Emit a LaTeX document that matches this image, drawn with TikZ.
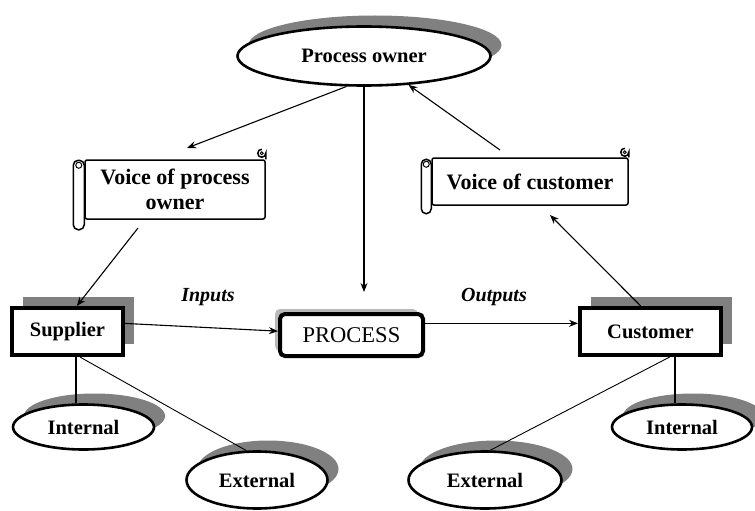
\documentclass[tikz,border=0pt]{standalone}
\usepackage{fontspec}
\setmainfont{Liberation Serif}
\usetikzlibrary{arrows.meta, shapes.geometric, shadows, calc, positioning}

\begin{document}
\begin{tikzpicture}[x=1pt, y=-1pt, >={Stealth[length=9pt,width=7pt]},
    txt/.style={font=\fontsize{20.5}{24}\selectfont\bfseries},
    oval/.style={ellipse, draw, line width=2.6pt, fill=white, inner sep=0pt, txt,
        drop shadow={shadow xshift=11pt, shadow yshift=11pt, fill=gray, opacity=1}},
    party/.style={rectangle, draw, line width=4pt, fill=white, inner sep=0pt, txt,
        drop shadow={shadow xshift=11pt, shadow yshift=11pt, fill=gray, opacity=1}},
    scroll/.style={rectangle, draw, line width=1.5pt, rounded corners=2pt, fill=white,
        inner sep=0pt, align=center, font=\fontsize{22}{25}\selectfont\bfseries},
    roll/.style={draw, line width=1.5pt, fill=white},
    link/.style={line width=1.1pt},
    leg/.style={line width=1.8pt},
    tag/.style={font=\fontsize{20}{24}\selectfont\bfseries\itshape}]

    % Canvas
    \useasboundingbox (0,0) rectangle (755,511);

    % Owner and the process
    \node[oval, minimum width=253, minimum height=59] (po) at (364,56) {Process owner};
    \node[rectangle, draw, line width=4pt, rounded corners=5pt, fill=white,
        font=\fontsize{22.5}{25}\selectfont, minimum width=143, minimum height=42,
        drop shadow={shadow xshift=-5pt, shadow yshift=5pt, fill=gray!55, opacity=1}]
        (proc) at (351.5,335) {PROCESS};

    % Supplier and customer
    \node[party, minimum width=111, minimum height=47] (sup) at (67.5,331.5) {Supplier};
    \node[party, minimum width=141, minimum height=47] (cus) at (650.5,331.5) {Customer};

    % Internal / external
    \node[oval, minimum width=141, minimum height=45] (intL) at (83.5,427) {Internal};
    \node[oval, minimum width=141, minimum height=57] (extL) at (257,480) {External};
    \node[oval, minimum width=153, minimum height=57] (extR) at (485,480) {External};
    \node[oval, minimum width=140, minimum height=45] (intR) at (682,427) {Internal};

    % Voice of process owner scroll
    \node[scroll, minimum width=180, minimum height=59] (vpo) at (175,189.5) {Voice of process\\owner};
    \draw[roll, rounded corners=5pt] ($(vpo.north west)+(-11,1)$) rectangle ($(vpo.south west)+(0,10)$);
    \draw[line width=1pt] ($(vpo.north west)+(-5.5,6)$) circle[radius=3];
    \draw[line width=1.5pt] (vpo.north east) -- ++(0,-6) arc[start angle=0, end angle=270, radius=4];
    \draw[line width=1pt] ($(vpo.north east)+(-4,-6)$) circle[radius=1.5];

    % Voice of customer scroll
    \node[scroll, minimum width=196, minimum height=47] (voc) at (530,181.5) {Voice of customer};
    \draw[roll, rounded corners=5pt] ($(voc.north west)+(-10,2)$) rectangle ($(voc.south west)+(0,8)$);
    \draw[line width=1pt] ($(voc.north west)+(-5,7)$) circle[radius=3];
    \draw[line width=1.5pt] (voc.north east) -- ++(0,-5) arc[start angle=0, end angle=270, radius=4];
    \draw[line width=1pt] ($(voc.north east)+(-4,-5)$) circle[radius=1.5];

    % Free ends
    \coordinate (vpotip) at (187,148);
    \coordinate (vpoout) at (138,228);
    \coordinate (proctip) at (364,292);
    \coordinate (voctip) at (550,215);
    \coordinate (vocout) at (500,150);

    % Feedback loop
    \draw[link, ->] (po.240) -- (vpotip);
    \draw[link, ->] (vpoout) -- (sup.70);
    \draw[link, ->] (po.south) -- (po.south |- proctip);
    \draw[link, ->] (cus.111) -- (voctip);
    \draw[link, ->] (vocout) -- (po.327);

    % Flow
    \draw[link, ->] (sup.8) -- (proc.177);
    \draw[link, ->] (proc.9) -- (proc.9 -| cus.west);
    \node[tag] (inlbl) at (208,297) {Inputs};
    \node[tag] (outlbl) at (494,297) {Outputs};

    % Kinds
    \draw[leg] (intL.107) -- (intL.107 |- sup.south);
    \draw[line width=0.9pt] (sup.296) -- (extL.110);
    \draw[leg] (intR.106) -- (intR.106 |- cus.south);
    \draw[line width=0.9pt] (cus.307) -- (extR.80);
\end{tikzpicture}
\end{document}
